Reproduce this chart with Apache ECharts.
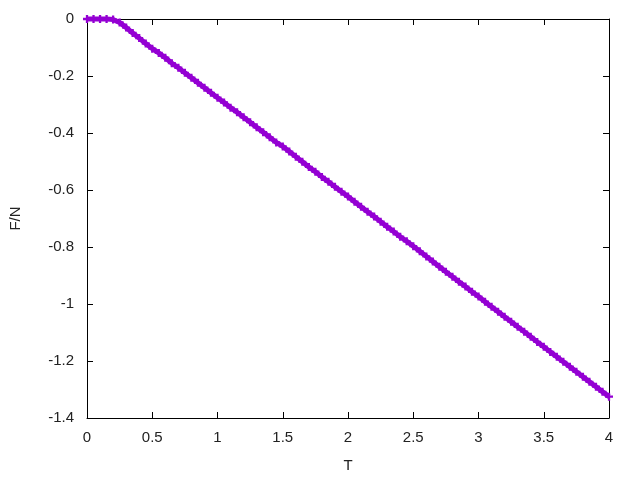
<!DOCTYPE html>
<html>
<head>
<meta charset="utf-8">
<script src="https://cdn.jsdelivr.net/npm/echarts@6/dist/echarts.min.js"></script>
<style>
  html, body { margin: 0; padding: 0; background: #fff; }
  #chart { width: 640px; height: 480px; }
</style>
</head>
<body>
<div id="chart"></div>
<script>
// temperature T (x axis)
var temps = [
  0.00, 0.05, 0.10, 0.15, 0.20, 0.25, 0.30, 0.35, 0.40, 0.45,
  0.50, 0.55, 0.60, 0.65, 0.70, 0.75, 0.80, 0.85, 0.90, 0.95,
  1.00, 1.05, 1.10, 1.15, 1.20, 1.25, 1.30, 1.35, 1.40, 1.45,
  1.50, 1.55, 1.60, 1.65, 1.70, 1.75, 1.80, 1.85, 1.90, 1.95,
  2.00, 2.05, 2.10, 2.15, 2.20, 2.25, 2.30, 2.35, 2.40, 2.45,
  2.50, 2.55, 2.60, 2.65, 2.70, 2.75, 2.80, 2.85, 2.90, 2.95,
  3.00, 3.05, 3.10, 3.15, 3.20, 3.25, 3.30, 3.35, 3.40, 3.45,
  3.50, 3.55, 3.60, 3.65, 3.70, 3.75, 3.80, 3.85, 3.90, 3.95,
  4.00
];
// free energy per spin F/N
var freeEnergy = [
  0, 0, 0, 0, -0.002, -0.012, -0.030, -0.049, -0.067, -0.086,
  -0.104, -0.119, -0.136, -0.155, -0.171, -0.189, -0.206, -0.224, -0.241, -0.259,
  -0.276, -0.293, -0.311, -0.327, -0.345, -0.362, -0.380, -0.397, -0.415, -0.433,
  -0.447, -0.465, -0.483, -0.501, -0.519, -0.536, -0.554, -0.571, -0.589, -0.606,
  -0.623, -0.641, -0.659, -0.676, -0.693, -0.711, -0.729, -0.746, -0.764, -0.780,
  -0.797, -0.815, -0.833, -0.851, -0.869, -0.887, -0.904, -0.922, -0.939, -0.957,
  -0.974, -0.992, -1.010, -1.027, -1.045, -1.062, -1.080, -1.097, -1.115, -1.133,
  -1.150, -1.168, -1.185, -1.203, -1.220, -1.238, -1.255, -1.273, -1.290, -1.308,
  -1.325
];
var xTicks = { min: 0, max: 4, step: 0.5 };
var yTicks = { min: -1.4, max: 0, step: 0.2 };

var points = [];
for (var i = 0; i < temps.length; i++) {
  points.push([temps[i], freeEnergy[i]]);
}

var myChart = echarts.init(document.getElementById('chart'));

var labelFont = { fontFamily: 'Liberation Sans, Arial, sans-serif', fontSize: 15, color: '#222' };
var lineStyle = { color: '#000', width: 1 };

function makeX(pos, showLabel) {
  return {
    type: 'value',
    position: pos,
    min: xTicks.min, max: xTicks.max, interval: xTicks.step,
    axisLine: { show: true, onZero: false, lineStyle: lineStyle },
    axisTick: { show: true, inside: true, length: 6, lineStyle: lineStyle },
    axisLabel: Object.assign({ show: showLabel, margin: 12 }, labelFont),
    splitLine: { show: false }
  };
}
function makeY(pos, showLabel) {
  return {
    type: 'value',
    position: pos,
    min: yTicks.min, max: yTicks.max, interval: yTicks.step,
    axisLine: { show: true, onZero: false, lineStyle: lineStyle },
    axisTick: { show: true, inside: true, length: 6, lineStyle: lineStyle },
    axisLabel: Object.assign({ show: showLabel, margin: 13 }, labelFont),
    splitLine: { show: false }
  };
}

var xBottom = makeX('bottom', true);
xBottom.name = 'T';
xBottom.nameLocation = 'middle';
xBottom.nameGap = 40;
xBottom.nameTextStyle = labelFont;

var yLeft = makeY('left', true);
yLeft.name = 'F/N';
yLeft.nameLocation = 'middle';
yLeft.nameGap = 64;
yLeft.nameRotate = 90;
yLeft.nameTextStyle = labelFont;

var option = {
  animation: false,
  backgroundColor: '#fff',
  grid: { left: 84, right: 31, top: 19, bottom: 62 },
  xAxis: [xBottom, makeX('top', false)],
  yAxis: [yLeft, makeY('right', false)],
  series: [
    {
      type: 'line',
      data: points,
      xAxisIndex: 0,
      yAxisIndex: 0,
      symbol: 'path://M2.5,0H4.5V2.5H7V4.5H4.5V7H2.5V4.5H0V2.5H2.5Z',
      symbolSize: 8,
      showAllSymbol: true,
      itemStyle: { color: '#9400d3' },
      lineStyle: { color: '#9400d3', width: 5 },
      clip: false
    }
  ]
};
myChart.setOption(option);
</script>
</body>
</html>
